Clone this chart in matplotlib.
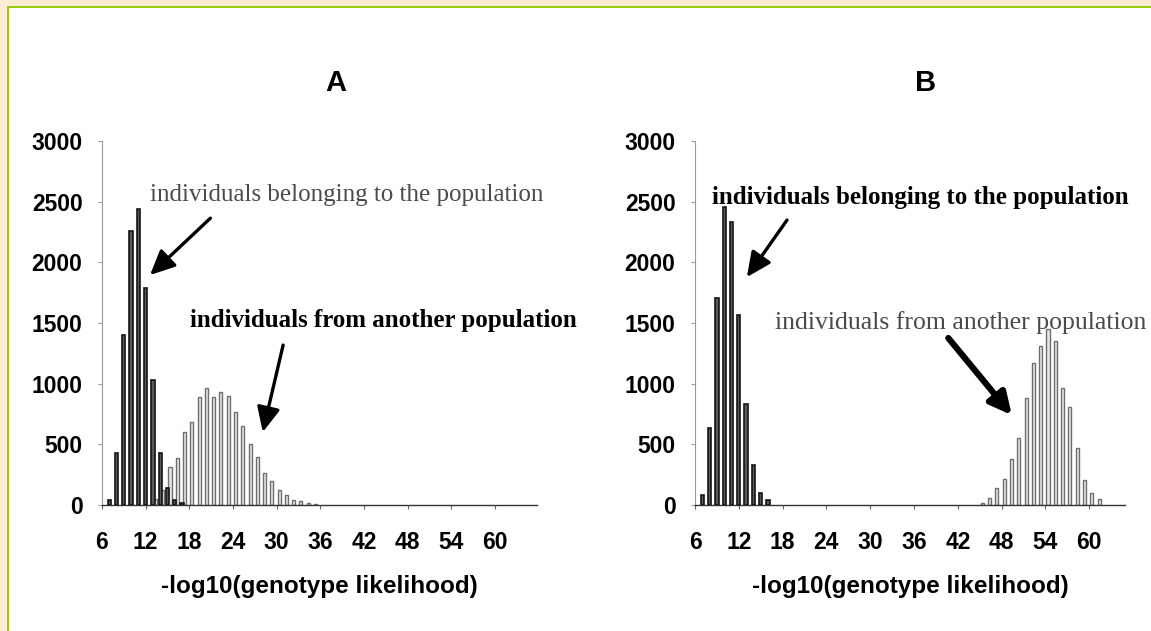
"""Two-panel genotype likelihood histograms (A and B)."""

import matplotlib

matplotlib.use("Agg")
import matplotlib.pyplot as plt  # noqa: E402
from matplotlib.patches import Rectangle  # noqa: E402

# panel A: individuals belonging to the population (dark) and from another one (light)
a_own_x = [7, 8, 9, 10, 11, 12, 13, 14, 15, 16, 17]
a_own_n = [40, 430, 1400, 2260, 2440, 1790, 1030, 430, 140, 45, 20]
a_other_x = [13, 14, 15, 16, 17, 18, 19, 20, 21, 22, 23, 24,
             25, 26, 27, 28, 29, 30, 31, 32, 33, 34, 35]
a_other_n = [50, 120, 316, 385, 605, 682, 888, 962, 888, 930, 902, 770,
             655, 500, 393, 261, 198, 121, 82, 38, 36, 19, 8]

# panel B
b_own_x = [7, 8, 9, 10, 11, 12, 13, 14, 15, 16]
b_own_n = [82, 638, 1705, 2453, 2329, 1567, 830, 327, 96, 38]
b_other_x = [45, 46, 47, 48, 49, 50, 51, 52, 53, 54, 55, 56, 57, 58, 59, 60, 61]
b_other_n = [19, 60, 143, 217, 382, 555, 885, 1169, 1312, 1449, 1353, 968,
             808, 467, 203, 96, 47]

x_ticks = [6, 12, 18, 24, 30, 36, 42, 48, 54, 60]
y_ticks = [0, 500, 1000, 1500, 2000, 2500, 3000]

W, H = 1151, 631
fig = plt.figure(figsize=(W / 100, H / 100), dpi=100)

# slide frame: beige margin, green rule, white page
fig.patches.append(Rectangle((0, 0), 1, 1, transform=fig.transFigure,
                             facecolor="#faedd2", edgecolor="none", zorder=-3))
fig.patches.append(Rectangle((7 / W, 0), 1, 1 - 6 / H, transform=fig.transFigure,
                             facecolor="#99cc00", edgecolor="none", zorder=-2))
fig.patches.append(Rectangle((9 / W, 0), 1, 1 - 8 / H, transform=fig.transFigure,
                             facecolor="white", edgecolor="none", zorder=-1))

sans = "Liberation Sans"
serif = "Liberation Serif"


def draw_panel(rect, xmax, own_x, own_n, other_x, other_n, title, title_x):
    ax = fig.add_axes(rect)
    ax.set_facecolor("none")
    ax.bar([v + 0.35 for v in other_x], other_n, width=0.42,
           facecolor="#e6e6e6", edgecolor="#6e6e6e", linewidth=1.0, zorder=2)
    ax.bar(own_x, own_n, width=0.45,
           facecolor="#5a5a5a", edgecolor="#151515", linewidth=1.2, zorder=3)
    ax.set_xlim(6, xmax)
    ax.set_ylim(0, 3000)
    ax.set_xticks(x_ticks)
    ax.set_yticks(y_ticks)
    for side in ("top", "right"):
        ax.spines[side].set_visible(False)
    ax.spines["left"].set_color("#9a9a9a")
    ax.spines["left"].set_linewidth(0.8)
    ax.spines["bottom"].set_color("#333333")
    ax.spines["bottom"].set_linewidth(1.0)
    ax.tick_params(axis="y", length=3, color="#9a9a9a", pad=11)
    ax.tick_params(axis="x", length=3, color="#666666", pad=16)
    for lab in ax.get_xticklabels() + ax.get_yticklabels():
        lab.set_fontfamily(sans)
        lab.set_fontweight("bold")
        lab.set_fontsize(16.5)
    ax.set_xlabel("-log10(genotype likelihood)", fontfamily=sans,
                  fontweight="bold", fontsize=17.5, labelpad=15)
    fig.text(title_x / W, 1 - 83 / H, title, fontfamily=sans, fontsize=21,
             fontweight="bold", ha="center", va="center")
    return ax


ax_a = draw_panel([102 / W, 1 - 505 / H, 435 / W, 364 / H], 65.8,
                  a_own_x, a_own_n, a_other_x, a_other_n, "A", 336)
ax_b = draw_panel([695 / W, 1 - 505 / H, 430 / W, 364 / H], 64.9,
                  b_own_x, b_own_n, b_other_x, b_other_n, "B", 926)

thin_arrow = dict(arrowstyle="-|>,head_length=1.5,head_width=0.7",
                  color="black", lw=2.4, shrinkA=0, shrinkB=0)
thick_arrow = dict(arrowstyle="-|>,head_length=1.3,head_width=0.65",
                   color="black", lw=4.5, shrinkA=0, shrinkB=0)

# panel A labels
ax_a.text(12.6, 2553, "individuals belonging to the population", fontfamily=serif,
          fontsize=18, color="#4a4a4a", va="center", ha="left", clip_on=False)
ax_a.annotate("", xy=(12.6, 1895), xytext=(20.9, 2364), arrowprops=thin_arrow,
              annotation_clip=False)
ax_a.text(18.1, 1524, "individuals from another population", fontfamily=serif,
          fontsize=18, fontweight="bold", color="black", va="center", ha="left",
          clip_on=False)
ax_a.annotate("", xy=(28.1, 601), xytext=(30.9, 1318), arrowprops=thin_arrow,
              annotation_clip=False)

# panel B labels
ax_b.text(8.3, 2537, "individuals belonging to the population", fontfamily=serif,
          fontsize=18, fontweight="bold", color="black", va="center", ha="left",
          clip_on=False)
ax_b.annotate("", xy=(13.1, 1878), xytext=(18.6, 2348), arrowprops=thin_arrow,
              annotation_clip=False)
ax_b.text(17.0, 1507, "individuals from another population", fontfamily=serif,
          fontsize=18.5, color="#4a4a4a", va="center", ha="left", clip_on=False)
ax_b.annotate("", xy=(49.4, 741), xytext=(40.7, 1376), arrowprops=thick_arrow,
              annotation_clip=False)

fig.savefig("out.png", dpi=100)
